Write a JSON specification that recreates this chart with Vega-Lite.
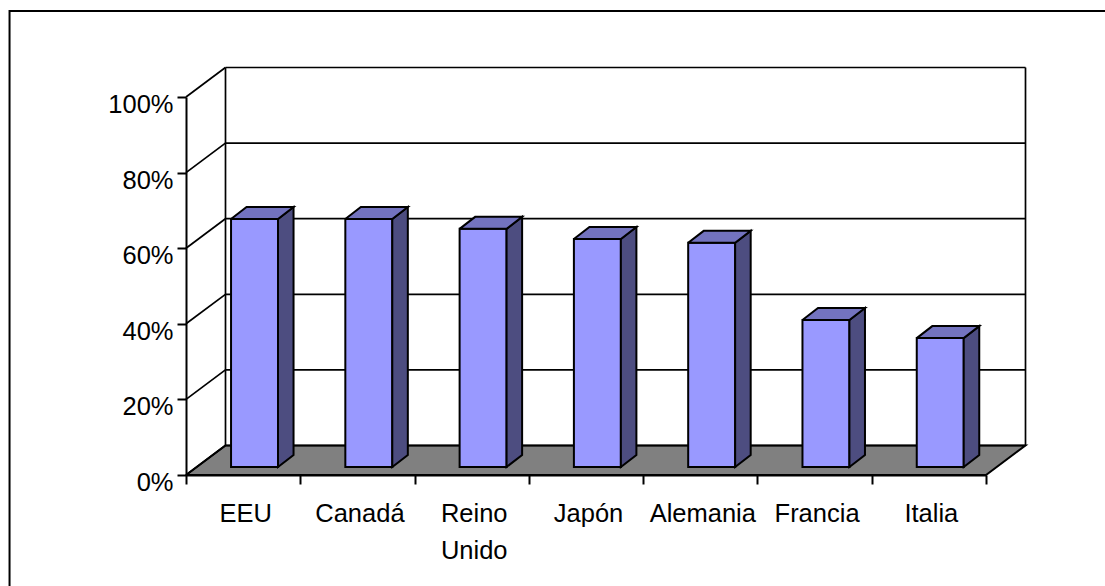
{
"$schema":"https://vega.github.io/schema/vega-lite/v6.json",
"width":800,"height":378,
"autosize":{"type":"none"},
"padding":{"left":186,"top":97,"right":119,"bottom":111},
"background":"white",
"config":{"view":{"stroke":null},"axis":{"labelFont":"Liberation Sans","labelFontSize":25.5,"labelColor":"black","tickColor":"black","domainColor":"black","grid":false,"title":null,"domainWidth":2,"tickWidth":2}},
"datasets":{
"paises":[{"pais":"EEU","valor":0.656},{"pais":"Canadá","valor":0.656},{"pais":"Reino Unido","valor":0.63},{"pais":"Japón","valor":0.603},{"pais":"Alemania","valor":0.593},{"pais":"Francia","valor":0.389},{"pais":"Italia","valor":0.341}],
"niveles":[{"nivel":0},{"nivel":0.2},{"nivel":0.4},{"nivel":0.6},{"nivel":0.8},{"nivel":1}],
"suelo":[{"j":0,"sx":0,"sy":0},{"j":1,"sx":7,"sy":0},{"j":2,"sx":7.345,"sy":0.078},{"j":3,"sx":0.345,"sy":0.078},{"j":4,"sx":0,"sy":0}],
"marco":[{"x0":-1.544,"x1":8.2,"y0":1.2275,"y1":-0.5}]
},
"layer":[
{"data":{"name":"marco"},"mark":{"type":"rect","fill":"transparent","stroke":"black","strokeWidth":2},
 "encoding":{"x":{"field":"x0","type":"quantitative","scale":{"domain":[0,7],"nice":false,"zero":false},"axis":null},"x2":{"field":"x1"},"y":{"field":"y0","type":"quantitative","scale":{"domain":[0,1],"nice":false},"axis":null},"y2":{"field":"y1"}}},
{"data":{"name":"suelo"},"mark":{"type":"line","fill":"#808080","stroke":"black","strokeWidth":2},
 "encoding":{"x":{"field":"sx","type":"quantitative","scale":{"domain":[0,7],"nice":false,"zero":false},"axis":null},"y":{"field":"sy","type":"quantitative","axis":null},"order":{"field":"j","type":"quantitative"}}},
{"data":{"name":"niveles"},"mark":{"type":"rule","stroke":"black","strokeWidth":1.7,"xOffset":39.5,"x2Offset":39.5,"yOffset":-29.5,"y2Offset":-29.5},
 "encoding":{"x":{"datum":0,"type":"quantitative","scale":{"domain":[0,7],"nice":false,"zero":false},"axis":null},"x2":{"datum":7},"y":{"field":"nivel","type":"quantitative","axis":null}}},
{"data":{"name":"niveles"},"transform":[{"calculate":"datum.nivel+0.078","as":"fin"}],"mark":{"type":"rule","stroke":"black","strokeWidth":1.7},
 "encoding":{"x":{"datum":0,"type":"quantitative","scale":{"domain":[0,7],"nice":false,"zero":false},"axis":null},"x2":{"datum":0.345},"y":{"field":"nivel","type":"quantitative","axis":null},"y2":{"field":"fin"}}},
{"data":{"values":[{"borde":0},{"borde":7}]},"mark":{"type":"rule","stroke":"black","strokeWidth":1.7,"xOffset":39.5,"yOffset":-29.5,"y2Offset":-29.5},
 "encoding":{"x":{"field":"borde","type":"quantitative","scale":{"domain":[0,7],"nice":false,"zero":false},"axis":null},"y":{"datum":0,"type":"quantitative","axis":null},"y2":{"datum":1}}},
{"data":{"name":"paises"},"mark":{"type":"bar","width":47,"xOffset":11.4,"yOffset":-8,"y2Offset":-8,"fill":"#9999FF","stroke":"black","strokeWidth":2},
 "encoding":{"x":{"field":"pais","type":"nominal","sort":null,"scale":{"type":"band","paddingInner":0,"paddingOuter":0},
   "axis":{"labelAngle":0,"tickBand":"extent","tickSize":9,"labelPadding":17,"labelAlign":"center","labelBaseline":"top","labelOffset":2,"labelLineHeight":37,"labelOverlap":false,"labelBound":false,"labelFlush":false,"labelExpr":"datum.label=='Reino Unido'?['Reino','Unido']:datum.label"}},
  "y":{"field":"valor","type":"quantitative","scale":{"domain":[0,1],"nice":false},
   "axis":{"values":[0,0.2,0.4,0.6,0.8,1],"format":".0%","tickSize":9,"labelPadding":4,"labelOffset":7.5}},
  "y2":{"datum":0}}},
{"data":{"name":"paises"},"transform":[{"window":[{"op":"row_number","as":"n"}]},
  {"calculate":"[{j:0,u:0.411,a:1,b:0},{j:1,u:0.411,a:0,b:0},{j:2,u:0.547,a:0,b:1},{j:3,u:0.547,a:1,b:1},{j:4,u:0.411,a:1,b:0}]","as":"v"},{"flatten":["v"]},
  {"calculate":"datum.n-1+0.394+datum.v.u","as":"px"},{"calculate":"0.0212+datum.v.a*datum.valor+datum.v.b*0.0317","as":"py"},{"calculate":"datum.v.j","as":"j"}],
 "mark":{"type":"line","fill":"#4D4D80","stroke":"black","strokeWidth":2},
 "encoding":{"x":{"field":"px","type":"quantitative","scale":{"domain":[0,7],"nice":false,"zero":false},"axis":null},"y":{"field":"py","type":"quantitative","axis":null},"detail":{"field":"pais"},"order":{"field":"j","type":"quantitative"}}},
{"data":{"name":"paises"},"transform":[{"window":[{"op":"row_number","as":"n"}]},
  {"calculate":"[{j:0,u:0,b:0},{j:1,u:0.411,b:0},{j:2,u:0.547,b:1},{j:3,u:0.136,b:1},{j:4,u:0,b:0}]","as":"v"},{"flatten":["v"]},
  {"calculate":"datum.n-1+0.394+datum.v.u","as":"px"},{"calculate":"0.0212+datum.valor+datum.v.b*0.0317","as":"py"},{"calculate":"datum.v.j","as":"j"}],
 "mark":{"type":"line","fill":"#7373BF","stroke":"black","strokeWidth":2},
 "encoding":{"x":{"field":"px","type":"quantitative","scale":{"domain":[0,7],"nice":false,"zero":false},"axis":null},"y":{"field":"py","type":"quantitative","axis":null},"detail":{"field":"pais"},"order":{"field":"j","type":"quantitative"}}}
],
"resolve":{"scale":{"x":"independent"},"axis":{"y":"independent"}}
}
